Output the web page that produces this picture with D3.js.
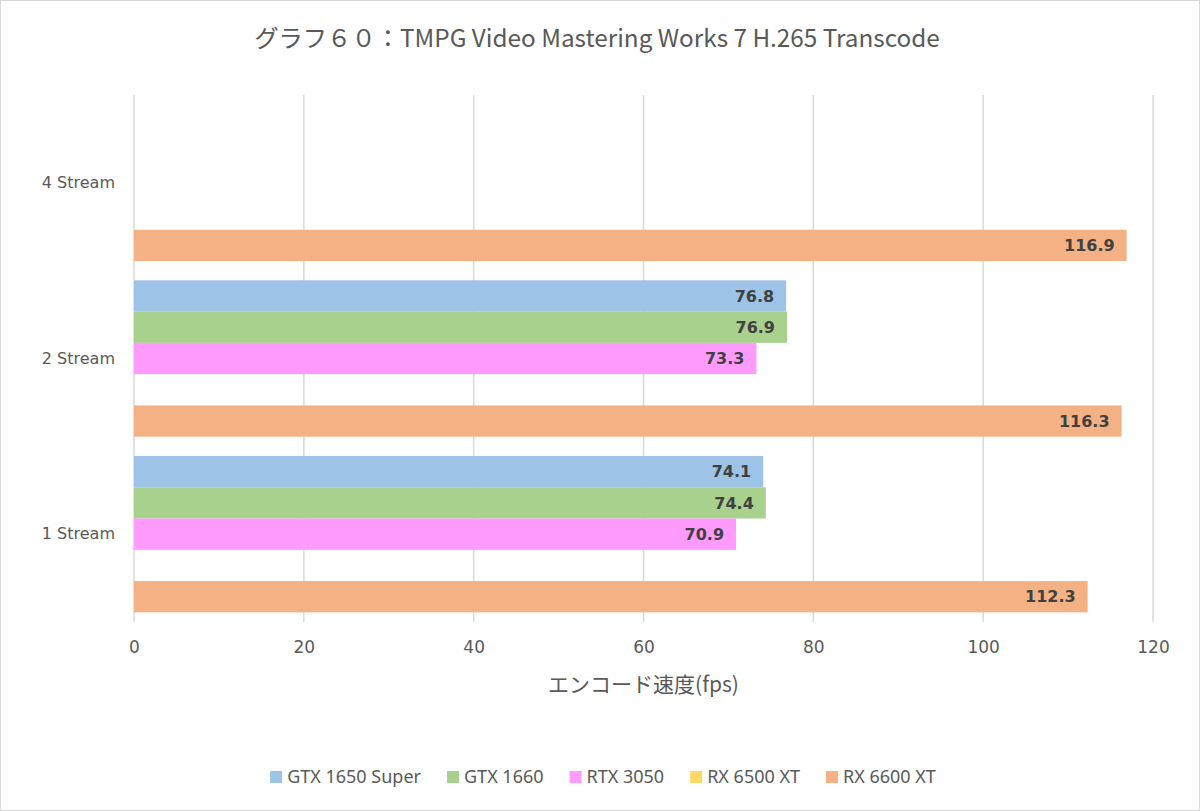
<!DOCTYPE html>
<html>
<head>
<meta charset="utf-8">
<script src="https://cdn.jsdelivr.net/npm/d3@7"></script>
<style>
  body { margin: 0; background: #fff; }
  svg { display: block; }
</style>
</head>
<body>
<svg id="chart" width="1200" height="811"></svg>
<script>
// ---------- Data ----------
const categories = ["4 Stream", "2 Stream", "1 Stream"];
const seriesNames = ["GTX 1650 Super", "GTX 1660", "RTX 3050", "RX 6500 XT", "RX 6600 XT"];
const seriesColors = ["#9dc3e6", "#a9d18e", "#ff9bff", "#ffd966", "#f4b183"];
const gtx1650super = [null, 76.8, 74.1];
const gtx1660 = [null, 76.9, 74.4];
const rtx3050 = [null, 73.3, 70.9];
const rx6500xt = [null, null, null];
const rx6600xt = [116.9, 116.3, 112.3];
const xTicks = [0, 20, 40, 60, 80, 100, 120];
const chartTitle = "グラフ６０：TMPG Video Mastering Works 7 H.265 Transcode";
const xTitle = "エンコード速度(fps)";

const seriesValues = [gtx1650super, gtx1660, rtx3050, rx6500xt, rx6600xt];

// ---------- Layout ----------
const W = 1200, H = 811;
const plot = { left: 134, right: 1153, top: 95, bottom: 622 };
const textGray = "#595959";
const gridGray = "#d9d9d9";

const svg = d3.select("#chart");

svg.append("rect")
  .attr("x", 0.5).attr("y", 0.5)
  .attr("width", W - 1).attr("height", H - 1)
  .attr("fill", "#fff")
  .attr("stroke", gridGray);

// ---------- Scales ----------
const x = d3.scaleLinear().domain([0, 120]).range([plot.left, plot.right]);
const y0 = d3.scaleBand()
  .domain(categories)
  .range([plot.top, plot.bottom])
  .paddingInner(0.11)
  .paddingOuter(0.055);
const y1 = d3.scaleBand().domain(seriesNames).range([0, y0.bandwidth()]);
const color = d3.scaleOrdinal().domain(seriesNames).range(seriesColors);

// ---------- Gridlines ----------
svg.append("g")
  .selectAll("line")
  .data(xTicks)
  .join("line")
  .attr("x1", (d) => x(d)).attr("x2", (d) => x(d))
  .attr("y1", plot.top).attr("y2", plot.bottom)
  .attr("stroke", gridGray)
  .attr("stroke-width", 1.5);

// ---------- Axes ----------
const xAxis = svg.append("g")
  .attr("transform", `translate(0,${plot.bottom})`)
  .call(d3.axisBottom(x).tickValues(xTicks).tickSize(0).tickPadding(19));
xAxis.select(".domain").remove();
xAxis.selectAll("text")
  .attr("fill", textGray)
  .style("font-family", "'DejaVu Sans', sans-serif")
  .style("font-size", "17px");

const yAxis = svg.append("g")
  .attr("transform", `translate(${plot.left},0)`)
  .call(d3.axisLeft(y0).tickSize(0).tickPadding(19));
yAxis.select(".domain").remove();
yAxis.selectAll("text")
  .attr("fill", textGray)
  .style("font-family", "'DejaVu Sans', sans-serif")
  .style("font-size", "16px");

// ---------- Bars ----------
const barData = [];
categories.forEach((cat, ci) => {
  seriesNames.forEach((name, si) => {
    const v = seriesValues[si][ci];
    if (v != null) barData.push({ cat, name, value: v });
  });
});

svg.append("g")
  .selectAll("rect")
  .data(barData)
  .join("rect")
  .attr("x", x(0))
  .attr("y", (d) => y0(d.cat) + y1(d.name))
  .attr("width", (d) => x(d.value) - x(0))
  .attr("height", y1.bandwidth())
  .attr("fill", (d) => color(d.name));

svg.append("g")
  .selectAll("text")
  .data(barData)
  .join("text")
  .attr("x", (d) => x(d.value) - 12)
  .attr("y", (d) => y0(d.cat) + y1(d.name) + y1.bandwidth() / 2)
  .attr("dy", "0.36em")
  .attr("text-anchor", "end")
  .attr("fill", "#404040")
  .style("font-family", "'DejaVu Sans', sans-serif")
  .style("font-weight", "bold")
  .style("font-size", "16px")
  .text((d) => d.value.toFixed(1));

// ---------- Titles ----------
svg.append("text")
  .attr("x", 597).attr("y", 38)
  .attr("dy", "0.35em")
  .attr("text-anchor", "middle")
  .attr("fill", textGray)
  .style("font-family", "'Noto Sans CJK JP', 'Noto Sans', sans-serif")
  .style("font-size", "24.3px")
  .text(chartTitle);

svg.append("text")
  .attr("x", (plot.left + plot.right) / 2).attr("y", 685)
  .attr("dy", "0.35em")
  .attr("text-anchor", "middle")
  .attr("fill", textGray)
  .style("font-family", "'Noto Sans CJK JP', 'Noto Sans', sans-serif")
  .style("font-size", "21px")
  .text(xTitle);

// ---------- Legend ----------
const legend = svg.append("g");
const legendY = 777;
const items = legend.selectAll("g")
  .data(seriesNames)
  .join("g");
items.append("rect")
  .attr("width", 12).attr("height", 12)
  .attr("y", legendY - 6)
  .attr("fill", (d) => color(d));
items.append("text")
  .attr("x", 17)
  .attr("y", legendY)
  .attr("dy", "0.35em")
  .attr("fill", textGray)
  .style("font-family", "'Noto Sans', sans-serif")
  .style("font-size", "18px")
  .text((d) => d);

// place items side by side, centred
let offset = 0;
const widths = [];
items.each(function () {
  const w = 17 + d3.select(this).select("text").node().getComputedTextLength();
  widths.push(w);
});
const gap = 26;
const total = d3.sum(widths) + gap * (widths.length - 1);
let start = 603 - total / 2;
items.attr("transform", (d, i) => {
  const tx = start + offset;
  offset += widths[i] + gap;
  return `translate(${tx},0)`;
});
</script>
</body>
</html>
